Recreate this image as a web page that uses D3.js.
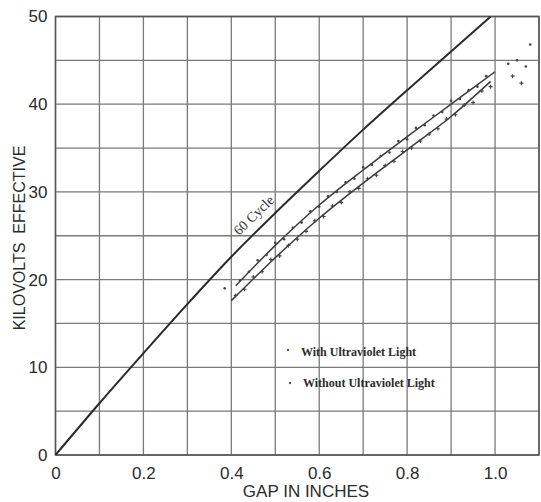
<!DOCTYPE html>
<html>
<head>
<meta charset="utf-8">
<script src="https://cdn.jsdelivr.net/npm/d3@7"></script>
<style>
  html, body { margin: 0; padding: 0; background: #ffffff; }
  svg { display: block; }
</style>
</head>
<body>
<svg id="chart" width="541" height="502"></svg>
<script>
// Spark-gap breakdown voltage vs. gap length
const xTicks = [0, 0.2, 0.4, 0.6, 0.8, 1.0];
const xTickLabels = ["0", "0.2", "0.4", "0.6", "0.8", "1.0"];
const yTicks = [0, 10, 20, 30, 40, 50];
const yTickLabels = ["0", "10", "20", "30", "40", "50"];

// 60-cycle breakdown curve: [gap inches, kV effective]
const cycle60 = [[0, 0], [0.1, 5.9], [0.2, 11.6], [0.3, 17.2], [0.4, 22.6], [0.5, 27.6],
                 [0.6, 32.4], [0.7, 37.1], [0.8, 41.6], [0.9, 46.0], [0.99, 50]];

// Mean curves for the impulse tests
const withUVCurve = [[0.41, 19.3], [0.5, 23.9], [0.6, 28.5], [0.7, 32.5], [0.8, 36.3],
                     [0.9, 40.0], [1.0, 43.7]];
const withoutUVCurve = [[0.40, 17.6], [0.5, 22.5], [0.6, 27.0], [0.7, 31.0], [0.8, 34.8],
                        [0.9, 38.6], [0.99, 42.6]];

// Individual readings
const withUVPoints = [[0.385, 19.0], [0.42, 19.9], [0.44, 20.9], [0.46, 22.2], [0.48, 22.8],
  [0.50, 24.2], [0.52, 24.6], [0.54, 25.9], [0.56, 26.5], [0.58, 27.8], [0.60, 28.3],
  [0.62, 29.5], [0.64, 30.0], [0.66, 31.1], [0.68, 31.5], [0.70, 32.8], [0.72, 33.1],
  [0.74, 34.1], [0.76, 34.5], [0.78, 35.8], [0.80, 36.0], [0.82, 37.3], [0.84, 37.6],
  [0.86, 38.7], [0.88, 39.1], [0.90, 40.4], [0.92, 40.6], [0.94, 41.6], [0.96, 42.0],
  [0.98, 43.2], [1.03, 44.6], [1.05, 45.0], [1.08, 46.8], [1.07, 44.3]];
const withoutUVPoints = [[0.41, 18.2], [0.43, 18.9], [0.45, 20.3], [0.47, 20.9], [0.49, 22.3],
  [0.51, 22.7], [0.53, 23.9], [0.55, 24.6], [0.57, 25.5], [0.59, 26.7], [0.61, 27.2],
  [0.63, 28.4], [0.65, 28.8], [0.67, 30.0], [0.69, 30.4], [0.71, 31.5], [0.73, 31.9],
  [0.75, 33.0], [0.77, 33.5], [0.79, 34.6], [0.81, 35.0], [0.83, 35.8], [0.85, 36.6],
  [0.87, 37.2], [0.89, 38.3], [0.91, 38.8], [0.93, 39.9], [0.95, 40.2], [0.97, 41.5],
  [0.99, 42.0], [1.04, 43.2], [1.06, 42.4]];

const legendLabels = ["With Ultraviolet Light", "Without Ultraviolet Light"];

const svg = d3.select("#chart");
const x = d3.scaleLinear().domain([0, 1.1]).range([55.5, 539]);
const y = d3.scaleLinear().domain([0, 50]).range([455, 16.5]);

const ink = "#2b2b2b";
const gridCol = "#7a7a7a";
const sans = "Liberation Sans, Arial, sans-serif";
const serif = "Liberation Serif, serif";

// grid
const g = svg.append("g");
g.selectAll("line.vg").data(d3.range(0, 12).map(i => i / 10)).join("line")
  .attr("x1", d => x(d)).attr("x2", d => x(d))
  .attr("y1", y(0)).attr("y2", y(50))
  .attr("stroke", gridCol).attr("stroke-width", 1.3);
g.selectAll("line.hg").data(d3.range(0, 11).map(i => i * 5)).join("line")
  .attr("x1", x(0)).attr("x2", x(1.1))
  .attr("y1", d => y(d)).attr("y2", d => y(d))
  .attr("stroke", gridCol).attr("stroke-width", 1.3);
g.append("rect").attr("x", x(0)).attr("y", y(50))
  .attr("width", x(1.1) - x(0)).attr("height", y(0) - y(50))
  .attr("fill", "none").attr("stroke", "#555").attr("stroke-width", 1.5);

// axes (labels only)
const xAxis = d3.axisBottom(x).tickValues(xTicks)
  .tickFormat((d, i) => xTickLabels[i]).tickSize(0).tickPadding(12);
svg.append("g").attr("transform", `translate(0,${y(0)})`).call(xAxis)
  .call(s => s.select(".domain").remove())
  .selectAll("text").attr("font-family", sans)
  .attr("font-size", 17).attr("fill", ink);
const yAxis = d3.axisLeft(y).tickValues(yTicks)
  .tickFormat((d, i) => yTickLabels[i]).tickSize(0).tickPadding(8);
svg.append("g").attr("transform", `translate(${x(0)},0)`).call(yAxis)
  .call(s => s.select(".domain").remove())
  .selectAll("text").attr("font-family", sans)
  .attr("font-size", 17).attr("fill", ink);

svg.append("text").attr("x", 306).attr("y", 497).attr("text-anchor", "middle")
  .attr("font-family", sans).attr("font-size", 17)
  .attr("fill", ink).text("GAP IN INCHES");
svg.append("text").attr("transform", "translate(25,238) rotate(-90)")
  .attr("text-anchor", "middle")
  .attr("font-family", sans).attr("font-size", 16)
  .attr("fill", ink).attr("xml:space", "preserve").text("KILOVOLTS  EFFECTIVE");

// curves
const line = d3.line().x(d => x(d[0])).y(d => y(d[1])).curve(d3.curveMonotoneX);
svg.append("path").attr("d", line(cycle60)).attr("fill", "none")
  .attr("stroke", ink).attr("stroke-width", 2);
svg.append("path").attr("d", line(withUVCurve)).attr("fill", "none")
  .attr("stroke", "#3a3a3a").attr("stroke-width", 1.5);
svg.append("path").attr("d", line(withoutUVCurve)).attr("fill", "none")
  .attr("stroke", "#3a3a3a").attr("stroke-width", 1.5);

// 60 cycle label along the curve
svg.append("text").attr("transform", "translate(239,236) rotate(-44)")
  .attr("font-family", serif).attr("font-size", 14)
  .attr("fill", ink).text("60 Cycle");

// readings
svg.append("g").selectAll("circle").data(withUVPoints).join("circle")
  .attr("cx", d => x(d[0])).attr("cy", d => y(d[1])).attr("r", 1.3)
  .attr("fill", "#444");
const cross = 2;
svg.append("g").selectAll("path").data(withoutUVPoints).join("path")
  .attr("d", d => `M${x(d[0]) - cross},${y(d[1])}h${2 * cross}M${x(d[0])},${y(d[1]) - cross}v${2 * cross}`)
  .attr("stroke", "#444").attr("stroke-width", 1.1);

// legend
const leg = svg.append("g");
leg.selectAll("circle").data(legendLabels).join("circle")
  .attr("cx", (d, i) => 288 + i * 2).attr("cy", (d, i) => 350 + i * 33).attr("r", 1.2)
  .attr("fill", "#555");
leg.selectAll("text").data(legendLabels).join("text")
  .attr("x", (d, i) => 301 + i * 2).attr("y", (d, i) => 356 + i * 31)
  .attr("font-family", serif).attr("font-size", 12)
  .attr("font-weight", "bold").attr("fill", ink).text(d => d);
</script>
</body>
</html>
